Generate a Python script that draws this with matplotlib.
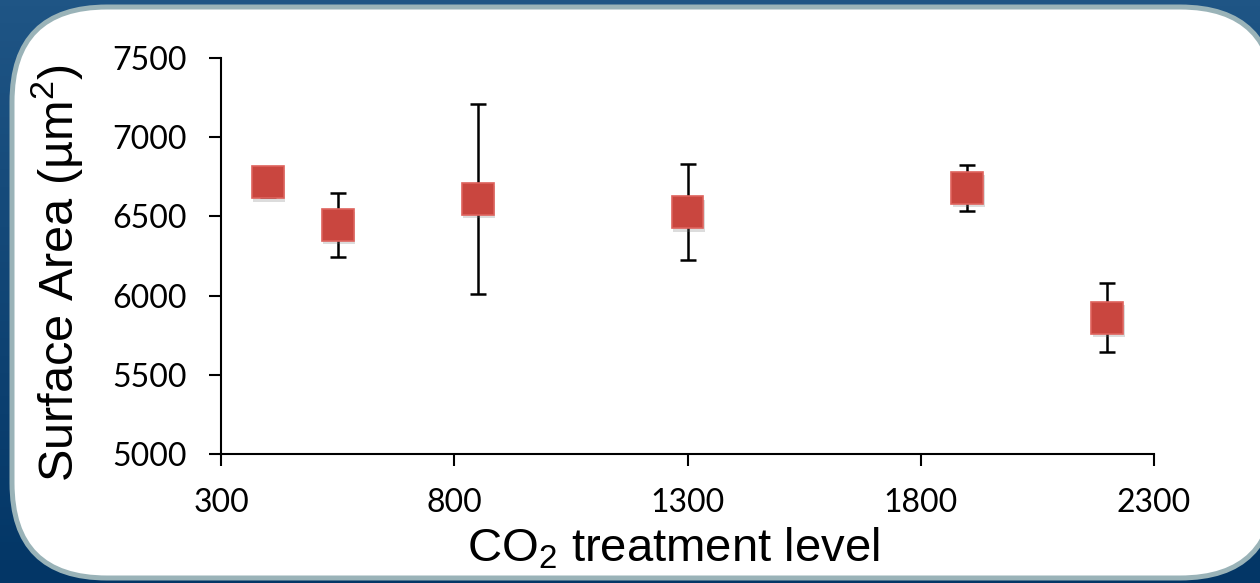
"""
surface area vs CO2 treatment level
"""

import numpy as np
from matplotlib import pyplot as plt
from matplotlib.patches import FancyBboxPatch
import matplotlib.patheffects as pe

co2 = [400, 550, 850, 1300, 1900, 2200]
area = [6715, 6446, 6610, 6527, 6680, 5861]
err = [90, 200, 600, 302, 145, 216]

xticks = [300, 800, 1300, 1800, 2300]
yticks = [5000, 5500, 6000, 6500, 7000, 7500]

plt.rcParams['mathtext.fontset'] = 'custom'
plt.rcParams['mathtext.rm'] = 'Liberation Sans'
plt.rcParams['mathtext.it'] = 'Liberation Sans'

fig = plt.figure(figsize=(12.6, 5.83), dpi=100)

# blue slide background + white rounded panel
bg = fig.add_axes([0, 0, 1, 1])
bg.set_xlim(0, 1260)
bg.set_ylim(583, 0)
bg.axis('off')
grad = np.linspace(0, 1, 100).reshape(-1, 1)
top = np.array([0x1f, 0x55, 0x85]) / 255
bot = np.array([0x03, 0x36, 0x66]) / 255
img = top + grad[..., None] * (bot - top)
bg.imshow(img, extent=[0, 1260, 583, 0], aspect='auto')
panel = FancyBboxPatch((12, 7), 1263, 571,
                       boxstyle='round,pad=0,rounding_size=95',
                       fc='white', ec='#9ab3b8', lw=3.6)
bg.add_patch(panel)

ax = fig.add_axes([0.1754, 0.2213, 0.7405, 0.6792])
ax.set_facecolor('none')

ax.errorbar(co2, area, yerr=err, fmt='none', ecolor='black',
            elinewidth=1.8, capsize=6, capthick=1.8, zorder=2)
ax.plot(co2, area, 's', ms=23, mfc='#c9463f', mec='#de625c', mew=1.2,
        zorder=3,
        path_effects=[pe.SimplePatchShadow(offset=(1, -2.5), shadow_rgbFace='#777777', alpha=0.25),
                      pe.Normal()])

ax.set_xlim(300, 2300)
ax.set_ylim(5000, 7500)
ax.set_xticks(xticks)
ax.set_yticks(yticks)

for s in ['top', 'right']:
    ax.spines[s].set_visible(False)
for s in ['left', 'bottom']:
    ax.spines[s].set_linewidth(1.5)

ax.tick_params(direction='out', length=8.5, width=1.5, labelsize=23, pad=16)
for lab in ax.get_xticklabels() + ax.get_yticklabels():
    lab.set_family('Lato')

ax.set_ylabel('Surface Area (µm$^2$)', fontsize=35, family='Liberation Sans', labelpad=20)
ax.set_xlabel('CO$_2$ treatment level', fontsize=34, family='Liberation Sans', labelpad=6)
ax.yaxis.label.set_y(0.457)
ax.xaxis.label.set_x(0.485)

fig.savefig('out.png', dpi=100)
